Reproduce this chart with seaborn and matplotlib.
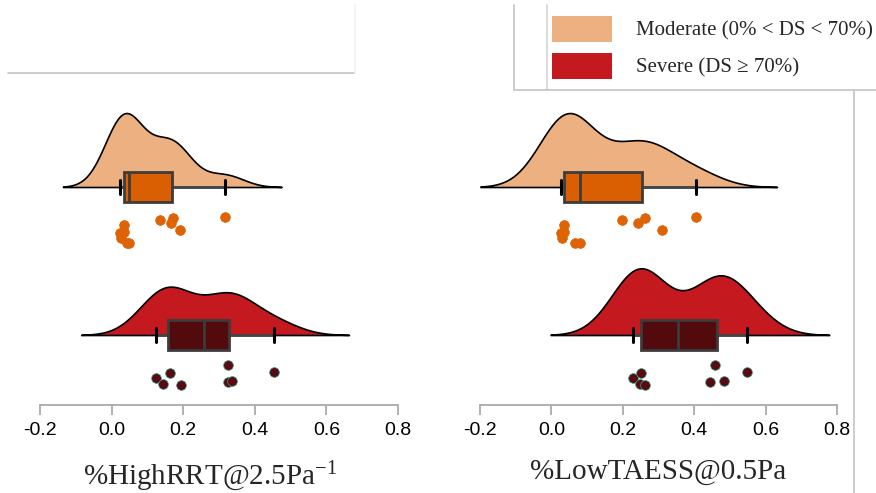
import matplotlib
matplotlib.use("Agg")
import numpy as np
import pandas as pd
import matplotlib.pyplot as plt
import matplotlib.transforms as mtransforms
from matplotlib.colors import to_hex
import seaborn as sns
from matplotlib.patches import Patch
from matplotlib.lines import Line2D

# values
groups = ["Moderate", "Severe"]
legend_labels = ["Moderate (0% < DS < 70%)", "Severe (DS \u2265 70%)"]
metric_labels = ["%HighRRT@2.5Pa$^{-1}$", "%LowTAESS@0.5Pa"]

rrt_moderate = [0.023, 0.027, 0.034, 0.036, 0.043, 0.048, 0.134, 0.165, 0.171, 0.190, 0.316]
rrt_severe = [0.125, 0.143, 0.164, 0.193, 0.324, 0.326, 0.337, 0.453]
taess_moderate = [0.027, 0.030, 0.036, 0.036, 0.067, 0.079, 0.197, 0.243, 0.263, 0.311, 0.406]
taess_severe = [0.229, 0.249, 0.250, 0.263, 0.445, 0.459, 0.483, 0.547]

xticks = [-0.2, 0.0, 0.2, 0.4, 0.6, 0.8]

violin_colors = ["#EDB181", "#C4191F"]
box_colors = ["#D95F02", "#530A0D"]
point_colors = ["#DD6305", "#5A0A10"]
point_edges = ["#DD6305", "#2FA58C"]

sns.set_style("white")
plt.rcParams["font.family"] = ["Liberation Sans", "DejaVu Sans"]
plt.rcParams["axes.unicode_minus"] = False
plt.rcParams["mathtext.fontset"] = "custom"
plt.rcParams["mathtext.rm"] = "Liberation Serif"
plt.rcParams["mathtext.default"] = "regular"

serif = ["Liberation Serif", "DejaVu Serif"]
VIOLIN_W = 0.5
BOX_W = 0.2
CAP_W = 0.095


def make_frame(moderate, severe):
    return pd.DataFrame({
        "group": ["Moderate"] * len(moderate) + ["Severe"] * len(severe),
        "value": moderate + severe,
    })


def raincloud(ax, df, label):
    # half violins (split, no hue); seaborn puts the flat side half a width away,
    # so slide them back onto the box centre line
    sns.violinplot(data=df, x="value", y="group", order=groups, split=True,
                   inner=None, cut=3, bw_adjust=0.9, density_norm="area",
                   width=VIOLIN_W, linewidth=1.2, linecolor="black", color="white", ax=ax)
    shift = mtransforms.Affine2D().translate(0, -VIOLIN_W / 2)
    for coll, c in zip(ax.collections, violin_colors):
        coll.set_facecolor(c)
        coll.set_transform(mtransforms.blended_transform_factory(
            ax.transData, shift + ax.transData))

    sns.boxplot(data=df, x="value", y="group", order=groups, hue="group",
                hue_order=groups, palette=box_colors, width=BOX_W, linewidth=2,
                linecolor="#3c3c3c", fliersize=0, saturation=1, legend=False,
                whiskerprops=dict(color="#444444", linewidth=2),
                capprops=dict(color="black", linewidth=2.2),
                boxprops=dict(zorder=3), medianprops=dict(zorder=4), ax=ax)
    # longer whisker caps, as in the reference
    for ln in ax.lines:
        xd, yd = np.asarray(ln.get_xdata()), np.asarray(ln.get_ydata())
        if (to_hex(ln.get_color()) == "#000000" and len(yd) == 2
                and xd[0] == xd[1]):
            yc = yd.mean()
            ln.set_ydata([yc - CAP_W / 2, yc + CAP_W / 2])

    np.random.seed(3)
    for g, c, ec in zip(groups, point_colors, point_edges):
        n_before = len(ax.collections)
        sns.stripplot(data=df[df["group"] == g], x="value", y="group", order=groups,
                      color=c, edgecolor=ec, linewidth=0.5, size=7, jitter=0.1, ax=ax)
        for coll in ax.collections[n_before:]:
            coll.set_offsets(coll.get_offsets() + np.array([0, 0.3]))
            coll.set_zorder(5)

    ax.set_xlim(-0.2, 0.8)
    ax.set_ylim(1.473, -0.65)
    ax.set_xticks(xticks)
    ax.set_xticklabels([f"{t:.1f}" for t in xticks])
    ax.set_yticks([])
    ax.set_ylabel("")
    ax.set_xlabel(label, fontsize=21, family=serif, labelpad=15)
    for s in ["left", "right", "top"]:
        ax.spines[s].set_visible(False)
    ax.spines["bottom"].set_color("#aaaaaa")
    ax.spines["bottom"].set_linewidth(1.3)
    ax.tick_params(axis="x", bottom=True, length=7, width=1.3, color="#aaaaaa",
                   labelsize=14, pad=5, labelcolor="black")
    ax.patch.set_alpha(0)


fig = plt.figure(figsize=(8.76, 4.93), dpi=100)
ax1 = fig.add_axes([40 / 876, 0.1785, 358 / 876, 0.6373])
ax2 = fig.add_axes([480 / 876, 0.1785, 357 / 876, 0.6373])

raincloud(ax1, make_frame(rrt_moderate, rrt_severe), metric_labels[0])
raincloud(ax2, make_frame(taess_moderate, taess_severe), metric_labels[1])
ax1.xaxis.label.set_x(0.475)

# leftover frame lines around the legend area
W, H = 876, 493
def fig_line(x0, y0, x1, y1, color):
    fig.add_artist(Line2D([x0 / W, x1 / W], [1 - y0 / H, 1 - y1 / H],
                          color=color, linewidth=1.3, transform=fig.transFigure))

fig_line(8, 73, 355, 73, "#c8c8c8")
fig_line(355, 5, 355, 73, "#f2f2f2")
fig_line(514, 5, 514, 90, "#c8c8c8")
fig_line(547, 5, 547, 90, "#d8d8d8")
fig_line(514, 90, 876, 90, "#c8c8c8")
fig_line(854, 90, 854, 493, "#c8c8c8")

handles = [Patch(facecolor=c, edgecolor="none") for c in violin_colors]
fig.legend(handles, legend_labels, loc="upper left", bbox_to_anchor=(552 / W, 1 - 15.5 / H),
           frameon=False, borderpad=0, borderaxespad=0, handlelength=2.9,
           handleheight=1.55, handletextpad=1.15, labelspacing=0.55,
           prop=dict(family=serif, size=15))

fig.savefig("out.png", dpi=100)
